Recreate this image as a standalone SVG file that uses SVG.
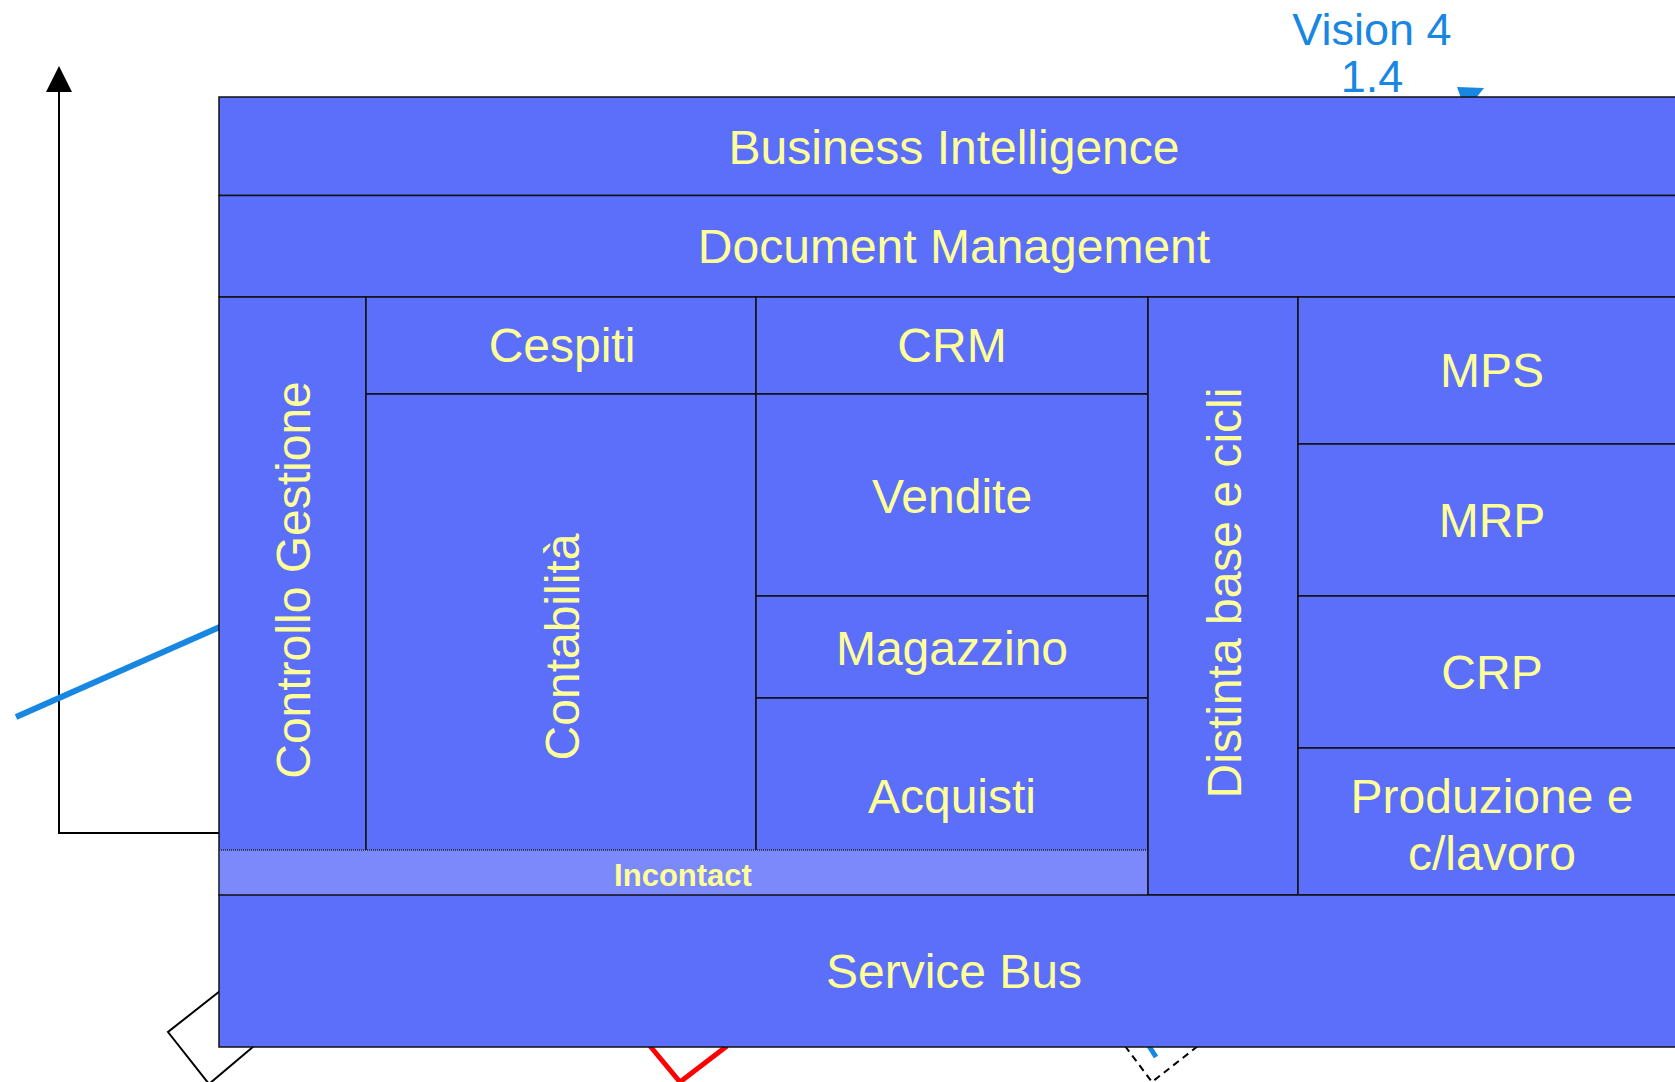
<svg xmlns="http://www.w3.org/2000/svg" width="1675" height="1082" viewBox="0 0 1675 1082">
<defs>
<style>
.box{fill:#5b6ffa;stroke:#111;stroke-width:1.5}
.lbl{font-family:"Liberation Sans",Arial,sans-serif;font-size:48px;fill:#ffff99;text-anchor:middle}
.inc{fill:#7b89fb;stroke:none}
.incl{font-family:"Liberation Sans",Arial,sans-serif;font-size:31px;font-weight:bold;fill:#ffff99;text-anchor:middle}
.vis{font-family:"Liberation Sans",Arial,sans-serif;font-size:45px;fill:#1787e2;text-anchor:middle}
</style>
</defs>
<rect width="1675" height="1082" fill="#fff"/>
<g id="connectors">
<polyline points="59,68 59,833 219,833" fill="none" stroke="#000" stroke-width="2"/>
<path d="M46,92 L59,66 L72,92 Z" fill="#000"/>
<line x1="16" y1="717" x2="222" y2="626" stroke="#1787e2" stroke-width="6"/>
<polygon points="1457,87 1484,88 1476,98 1461,98" fill="#1787e2"/>
<polyline points="220,991 168,1032 209,1084 254,1046" fill="none" stroke="#000" stroke-width="2"/>
<polyline points="650,1046 680,1082 727,1046" fill="none" stroke="#f00" stroke-width="5"/>
<polyline points="1125,1046 1152,1082 1198,1046" fill="none" stroke="#000" stroke-width="2" stroke-dasharray="7,5"/>
<line x1="1149" y1="1046" x2="1156" y2="1057" stroke="#1787e2" stroke-width="5"/>
</g>
<g id="vision">
<text class="vis" x="1372" y="45">Vision 4</text>
<text class="vis" x="1372" y="92">1.4</text>
</g>
<g id="business-intelligence"><rect class="box" x="219" y="97" width="1469" height="98.5"/><text class="lbl" x="954" y="164">Business Intelligence</text></g>
<g id="document-management"><rect class="box" x="219" y="195.5" width="1469" height="101.5"/><text class="lbl" x="954" y="263">Document Management</text></g>
<g id="controllo-gestione"><rect class="box" x="219" y="297" width="147" height="598"/><text class="lbl" transform="translate(310,580) rotate(-90)">Controllo Gestione</text></g>
<g id="cespiti"><rect class="box" x="366" y="297" width="390" height="97"/><text class="lbl" x="562" y="362">Cespiti</text></g>
<g id="contabilita"><rect class="box" x="366" y="394" width="390" height="501"/><text class="lbl" transform="translate(579,647) rotate(-90)">Contabilità</text></g>
<g id="crm"><rect class="box" x="756" y="297" width="392" height="97"/><text class="lbl" x="952" y="362">CRM</text></g>
<g id="vendite"><rect class="box" x="756" y="394" width="392" height="202"/><text class="lbl" x="952" y="513">Vendite</text></g>
<g id="magazzino"><rect class="box" x="756" y="596" width="392" height="102"/><text class="lbl" x="952" y="665">Magazzino</text></g>
<g id="acquisti"><rect class="box" x="756" y="698" width="392" height="197"/><text class="lbl" x="952" y="813">Acquisti</text></g>
<g id="incontact"><rect class="inc" x="219.8" y="850" width="927.5" height="45"/><line x1="219" y1="850" x2="1148" y2="850" stroke="#222" stroke-width="1.5" stroke-dasharray="1,1"/><text class="incl" x="683" y="886">Incontact</text></g>
<g id="distinta"><rect class="box" x="1148" y="297" width="150" height="598"/><text class="lbl" transform="translate(1241,593) rotate(-90)">Distinta base e cicli</text></g>
<g id="mps"><rect class="box" x="1298" y="297" width="390" height="147"/><text class="lbl" x="1492" y="387">MPS</text></g>
<g id="mrp"><rect class="box" x="1298" y="444" width="390" height="152"/><text class="lbl" x="1492" y="537">MRP</text></g>
<g id="crp"><rect class="box" x="1298" y="596" width="390" height="152"/><text class="lbl" x="1492" y="689">CRP</text></g>
<g id="produzione"><rect class="box" x="1298" y="748" width="390" height="147"/><text class="lbl" x="1492" y="813">Produzione e</text><text class="lbl" x="1492" y="870">c/lavoro</text></g>
<g id="service-bus"><rect class="box" x="219" y="895" width="1469" height="152"/><text class="lbl" x="954" y="988">Service Bus</text></g>
</svg>
